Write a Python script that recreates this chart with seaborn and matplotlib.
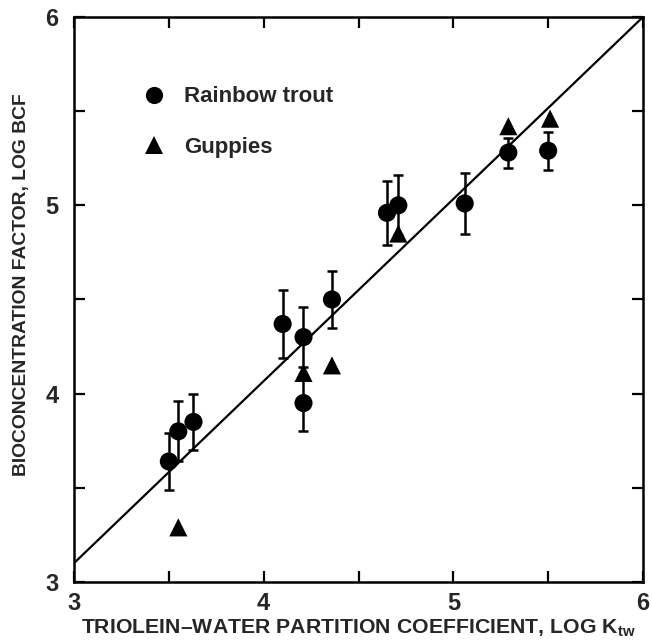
import numpy as np
import pandas as pd
import matplotlib
matplotlib.use('Agg')
import matplotlib.pyplot as plt
import seaborn as sns

# Rainbow trout: log Ktw, log BCF, error (+/-)
trout_x = [3.50, 3.55, 3.63, 4.10, 4.21, 4.21, 4.36, 4.65, 4.71, 5.06, 5.29, 5.50]
trout_y = [3.64, 3.80, 3.85, 4.37, 4.30, 3.95, 4.50, 4.96, 5.00, 5.01, 5.28, 5.29]
trout_err = [0.15, 0.16, 0.15, 0.18, 0.16, 0.15, 0.15, 0.17, 0.16, 0.16, 0.08, 0.10]

# Guppies
guppy_x = [3.55, 4.21, 4.36, 4.71, 5.29, 5.51]
guppy_y = [3.29, 4.11, 4.15, 4.85, 5.42, 5.46]

# fitted line endpoints
fit_x = [3.0, 6.0]
fit_y = [3.10, 6.00]

df = pd.DataFrame({
    'x': trout_x + guppy_x,
    'y': trout_y + guppy_y,
    'species': ['Rainbow trout'] * len(trout_x) + ['Guppies'] * len(guppy_x),
})

sns.set_style('ticks')
plt.rcParams['font.family'] = ['Liberation Sans', 'DejaVu Sans']
plt.rcParams['font.weight'] = 'bold'
plt.rcParams['mathtext.fontset'] = 'custom'
plt.rcParams['mathtext.bf'] = 'Liberation Sans:bold'
plt.rcParams['mathtext.rm'] = 'Liberation Sans:bold'
plt.rcParams['mathtext.default'] = 'bf'

fig = plt.figure(figsize=(6.52, 6.43), dpi=100)
ax = fig.add_axes([0.1135, 0.0949, 0.8727, 0.8787])

ax.plot(fit_x, fit_y, color='black', lw=1.6, zorder=1)
ax.errorbar(trout_x, trout_y, yerr=trout_err, fmt='none', ecolor='black',
            elinewidth=1.8, capsize=3.5, capthick=1.8, zorder=2)
sns.scatterplot(data=df, x='x', y='y', style='species',
                markers={'Rainbow trout': 'o', 'Guppies': '^'},
                color='black', s=170, edgecolor='black', linewidth=0,
                ax=ax, zorder=3)

leg = ax.legend(loc='upper left', bbox_to_anchor=(0.086, 0.893), frameon=False,
                fontsize=16, labelspacing=1.33, handletextpad=0.36,
                borderaxespad=0, markerscale=0.95)
for t in leg.get_texts():
    t.set_fontweight('bold')

ax.set_xlim(3, 6)
ax.set_ylim(3, 6)
ax.set_xticks([3, 4, 5, 6])
ax.set_yticks([3, 4, 5, 6])
ax.set_xticks([3.5, 4.5, 5.5], minor=True)
ax.set_yticks([3.5, 4.5, 5.5], minor=True)
ax.tick_params(which='both', direction='in', top=True, right=True,
               width=1.6, color='black')
ax.tick_params(which='major', length=8, labelsize=17)
ax.tick_params(axis='x', which='major', pad=7)
ax.tick_params(axis='y', which='major', pad=11)
ax.tick_params(which='minor', length=8)
for lab in ax.get_xticklabels() + ax.get_yticklabels():
    lab.set_fontweight('bold')
for sp in ax.spines.values():
    sp.set_linewidth(1.8)
    sp.set_color('black')

ax.set_xlabel(r'TRIOLEIN–WATER PARTITION COEFFICIENT, LOG K$_{tw}$',
              fontsize=15.3, fontweight='bold')
ax.set_ylabel('BIOCONCENTRATION FACTOR, LOG BCF', fontsize=13.9,
              fontweight='bold')
ax.xaxis.set_label_coords(0.5, -0.063)
ax.yaxis.set_label_coords(-0.078, 0.526)

fig.savefig('out.png', dpi=100)
